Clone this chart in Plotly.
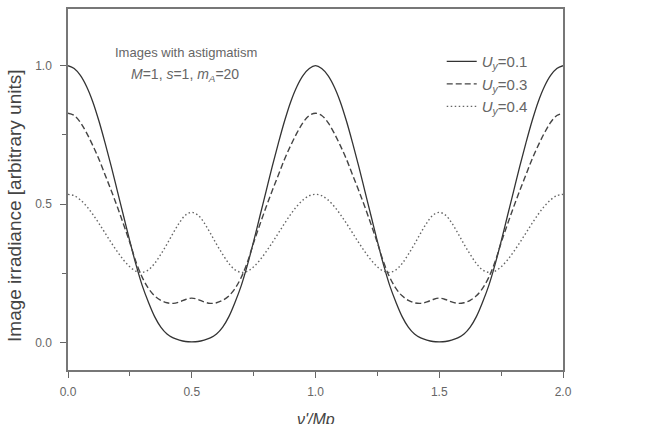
import plotly.graph_objects as go

# spatial frequency nu'/Mp, step 0.025 from 0 to 2
nu = [round(i * 0.025, 3) for i in range(81)]

irr_u01 = [1.000, 0.990, 0.965, 0.925, 0.870, 0.800, 0.720, 0.635, 0.545, 0.455, 0.365,
           0.280, 0.205, 0.145, 0.093, 0.055, 0.030, 0.016, 0.008, 0.003, 0.002,
           0.003, 0.008, 0.016, 0.030, 0.055, 0.093, 0.145, 0.205, 0.280, 0.365,
           0.455, 0.545, 0.635, 0.720, 0.800, 0.870, 0.925, 0.965, 0.990, 1.000,
           0.990, 0.965, 0.925, 0.870, 0.800, 0.720, 0.635, 0.545, 0.455, 0.365,
           0.280, 0.205, 0.145, 0.093, 0.055, 0.030, 0.016, 0.008, 0.003, 0.002,
           0.003, 0.008, 0.016, 0.030, 0.055, 0.093, 0.145, 0.205, 0.280, 0.365,
           0.455, 0.545, 0.635, 0.720, 0.800, 0.870, 0.925, 0.965, 0.990, 1.000]

irr_u03 = [0.828, 0.820, 0.795, 0.757, 0.712, 0.662, 0.605, 0.548, 0.488, 0.425, 0.360,
           0.290, 0.235, 0.195, 0.168, 0.152, 0.143, 0.141, 0.146, 0.155, 0.160,
           0.155, 0.146, 0.141, 0.143, 0.152, 0.168, 0.195, 0.235, 0.290, 0.360,
           0.425, 0.488, 0.548, 0.605, 0.662, 0.712, 0.757, 0.795, 0.820, 0.828,
           0.820, 0.795, 0.757, 0.712, 0.662, 0.605, 0.548, 0.488, 0.425, 0.360,
           0.290, 0.235, 0.195, 0.168, 0.152, 0.143, 0.141, 0.146, 0.155, 0.160,
           0.155, 0.146, 0.141, 0.143, 0.152, 0.168, 0.195, 0.235, 0.290, 0.360,
           0.425, 0.488, 0.548, 0.605, 0.662, 0.712, 0.757, 0.795, 0.820, 0.828]

irr_u04 = [0.535, 0.530, 0.515, 0.492, 0.463, 0.430, 0.395, 0.360, 0.327, 0.297, 0.273,
           0.257, 0.253, 0.262, 0.285, 0.318, 0.355, 0.395, 0.432, 0.460, 0.470,
           0.460, 0.432, 0.395, 0.355, 0.318, 0.285, 0.262, 0.253, 0.257, 0.273,
           0.297, 0.327, 0.360, 0.395, 0.430, 0.463, 0.492, 0.515, 0.530, 0.535,
           0.530, 0.515, 0.492, 0.463, 0.430, 0.395, 0.360, 0.327, 0.297, 0.273,
           0.257, 0.253, 0.262, 0.285, 0.318, 0.355, 0.395, 0.432, 0.460, 0.470,
           0.460, 0.432, 0.395, 0.355, 0.318, 0.285, 0.262, 0.253, 0.257, 0.273,
           0.297, 0.327, 0.360, 0.395, 0.430, 0.463, 0.492, 0.515, 0.530, 0.535]

series_names = ["<i>U</i><sub><i>y</i></sub>=0.1",
                "<i>U</i><sub><i>y</i></sub>=0.3",
                "<i>U</i><sub><i>y</i></sub>=0.4"]

FONT = "Liberation Sans, Arial, sans-serif"

fig = go.Figure()
fig.add_trace(go.Scatter(x=nu, y=irr_u01, mode="lines", name=series_names[0],
                         line=dict(color="#333333", width=1.3, shape="spline")))
fig.add_trace(go.Scatter(x=nu, y=irr_u03, mode="lines", name=series_names[1],
                         line=dict(color="#444444", width=1.4, dash="6px,3px", shape="spline")))
fig.add_trace(go.Scatter(x=nu, y=irr_u04, mode="lines", name=series_names[2],
                         line=dict(color="#666666", width=1.4, dash="1.5px,2.5px", shape="spline")))

axis_common = dict(showgrid=False, zeroline=False, showline=True, mirror=True,
                   linecolor="#777777", linewidth=1.5, ticks="outside", ticklen=6,
                   tickwidth=1.2, tickcolor="#666666", tickformat=".1f",
                   tickfont=dict(family=FONT, size=12, color="#666666"))

fig.update_xaxes(range=[0, 2], dtick=0.5, tick0=0, ticklabelstandoff=4,
                 minor=dict(dtick=0.25, tick0=0, ticks="outside", ticklen=4,
                            tickcolor="#666666", tickwidth=1.2),
                 **axis_common)
fig.update_yaxes(range=[-0.1, 1.205], dtick=0.5, tick0=0, ticklabelstandoff=6,
                 minor=dict(dtick=0.25, tick0=0, ticks="outside", ticklen=4,
                            tickcolor="#666666", tickwidth=1.2),
                 **axis_common)

fig.update_layout(
    width=650, height=424,
    margin=dict(l=68, r=87, t=7, b=54),
    paper_bgcolor="white", plot_bgcolor="white",
    font=dict(family=FONT, color="#555555"),
    showlegend=True,
    legend=dict(x=0.755, y=0.9, xanchor="left", yanchor="top",
                bgcolor="rgba(0,0,0,0)", font=dict(family=FONT, size=15, color="#666666"),
                itemwidth=30, tracegroupgap=0),
    annotations=[
        dict(text="Images with astigmatism", x=0.182, y=1.047, xref="x", yref="y",
             xanchor="left", yanchor="middle", showarrow=False,
             font=dict(family=FONT, size=13, color="#666666")),
        dict(text="<i>M</i>=1, <i>s</i>=1, <i>m</i><sub><i>A</i></sub>=20", x=0.246, y=0.968,
             xref="x", yref="y", xanchor="left", yanchor="middle", showarrow=False,
             font=dict(family=FONT, size=14, color="#666666")),
        dict(text="Image irradiance [arbitrary units]", x=-0.107, y=0.4545,
             xref="paper", yref="paper", xanchor="center", yanchor="middle",
             textangle=-90, showarrow=False,
             font=dict(family=FONT, size=19, color="#444444")),
        dict(text="<i>ν'/Mp</i>", x=1.0, y=-0.108, xref="x", yref="paper",
             xanchor="center", yanchor="top", showarrow=False,
             font=dict(family=FONT, size=16, color="#444444")),
    ],
)

fig.write_html("out.html")
